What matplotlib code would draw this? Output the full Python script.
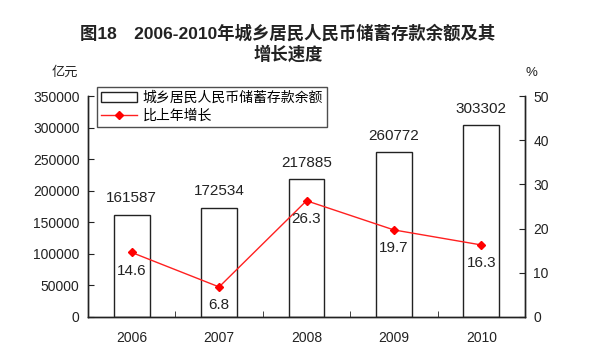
import matplotlib.pyplot as plt
from matplotlib.ticker import FixedLocator, NullFormatter

plt.rcParams['font.family'] = ['Liberation Sans', 'Noto Sans CJK SC', 'DejaVu Sans']

# Data
years = ['2006', '2007', '2008', '2009', '2010']
deposits = [161587, 172534, 217885, 260772, 303302]
growth = [14.6, 6.8, 26.3, 19.7, 16.3]

fig = plt.figure(figsize=(5.92, 3.6), dpi=100)
fig.patch.set_facecolor('white')
ax = fig.add_axes([88/592, 1-317/360, (525-88)/592, (317-96)/360])
ax2 = ax.twinx()

x = list(range(len(years)))
bars = ax.bar(x, deposits, width=0.41, facecolor='white', edgecolor='#222222',
              linewidth=1.0, label='城乡居民人民币储蓄存款余额', zorder=2)
line, = ax2.plot(x, growth, color='#ff2020', linewidth=1.0, marker='D',
                 markersize=4.5, markerfacecolor='#ff0000', markeredgecolor='#ff0000',
                 label='比上年增长', zorder=3)

ax.set_xlim(-0.5, 4.5)
ax.set_ylim(0, 350000)
ax2.set_ylim(0, 50)
ax.set_yticks(range(0, 350001, 50000))
ax2.set_yticks(range(0, 51, 10))

ax.set_xticks(x)
ax.set_xticklabels(years)
ax.xaxis.set_minor_locator(FixedLocator([0.5, 1.5, 2.5, 3.5]))
ax.xaxis.set_minor_formatter(NullFormatter())
ax.tick_params(axis='x', which='major', length=0, pad=10, labelsize=10, colors='#222222')
ax.tick_params(axis='x', which='minor', direction='in', length=4, color='#222222')
ax.tick_params(axis='y', direction='in', length=4, pad=6, labelsize=10, colors='#222222')
ax2.tick_params(axis='y', direction='in', length=4, pad=6, labelsize=10, colors='#222222')

for a in (ax, ax2):
    a.spines['top'].set_visible(False)
    for s in ('left', 'right', 'bottom'):
        a.spines[s].set_color('#222222')
        a.spines[s].set_linewidth(1.0)

# Value labels
for xi, v in zip(x, deposits):
    ax.annotate(str(v), (xi, v), xytext=(0, 12), textcoords='offset points',
                ha='center', va='center', fontsize=11, color='#222222')
for xi, v in zip(x, growth):
    ax2.annotate(f'{v:.1f}', (xi, v), xytext=(0, -13), textcoords='offset points',
                 ha='center', va='center', fontsize=11, color='#222222')

# Legend
leg = fig.legend([bars, line], ['城乡居民人民币储蓄存款余额', '比上年增长'],
                 loc='upper left', bbox_to_anchor=(97/592, 1-87/360),
                 bbox_transform=fig.transFigure, borderaxespad=0,
                 fontsize=10, frameon=True, fancybox=False,
                 handlelength=2.6, handletextpad=0.4, borderpad=0.3,
                 labelspacing=0.25)
leg.get_frame().set_edgecolor('#222222')
leg.get_frame().set_linewidth(1.0)

# Titles and unit labels
fig.text(288/592, 1-33/360, '图18　2006-2010年城乡居民人民币储蓄存款余额及其',
         ha='center', va='center', fontsize=12.5, fontweight='bold', color='#222222')
fig.text(288/592, 1-54/360, '增长速度',
         ha='center', va='center', fontsize=12.5, fontweight='bold', color='#222222')
fig.text(65/592, 1-73/360, '亿元', ha='center', va='center', fontsize=9.5, color='#222222')
fig.text(531/592, 1-73/360, '%', ha='center', va='center', fontsize=9.5, color='#222222')

fig.savefig('out.png', dpi=100, facecolor='white')
